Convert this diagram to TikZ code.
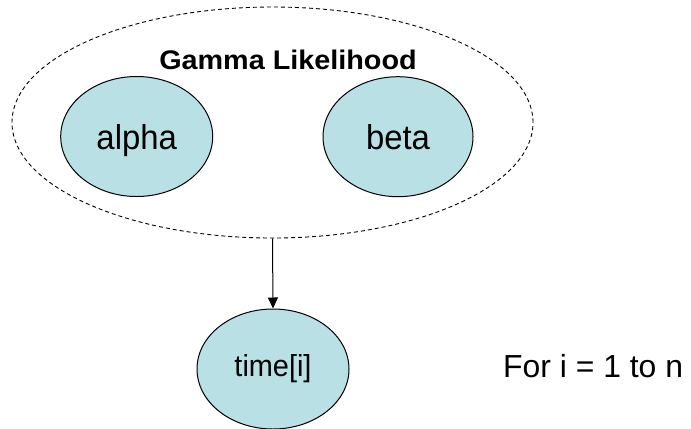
\documentclass[tikz,border=0pt]{standalone}
\usepackage{fontspec}
\setmainfont{Liberation Sans}
\usetikzlibrary{shapes.geometric,arrows.meta}
\definecolor{nodefill}{RGB}{185,224,228}
\begin{document}
\begin{tikzpicture}[x=1bp,y=-1bp,
  varnode/.style={ellipse,draw=black,line width=1bp,fill=nodefill,inner sep=0pt,
    minimum width=152bp,minimum height=120bp},
  plate/.style={ellipse,draw=black,line width=0.9bp,dash pattern=on 4bp off 3bp,
    inner sep=0pt,minimum width=521bp,minimum height=231bp},
  conn/.style={line width=1bp,-{Triangle[length=11bp,width=10bp]}}]
\useasboundingbox (0,0) rectangle (691,428);
\node[plate] (gl) at (272.5,122.5) {};
\node[font=\fontsize{27}{30}\selectfont\bfseries] (title) at (288,60) {\scalebox{1.07}[1]{Gamma Likelihood}};
\node[varnode,text depth=0pt,font=\fontsize{33}{36}\selectfont] (alpha) at (136.7,136.5) {\scalebox{1}[1.05]{alpha}};
\node[varnode,minimum width=150bp,font=\fontsize{33}{36}\selectfont] (beta) at (398,136.7) {\scalebox{1}[1.05]{beta}};
\node[varnode,font=\fontsize{29}{32}\selectfont] (time) at (273,369) {\scalebox{1}[1.05]{time[i]}};
\node[anchor=base west,inner sep=0pt,font=\fontsize{32}{35}\selectfont] (loop) at (503,377) {For i = 1 to n};
\draw[conn] (gl.south) -- (time.north);
\end{tikzpicture}
\end{document}
